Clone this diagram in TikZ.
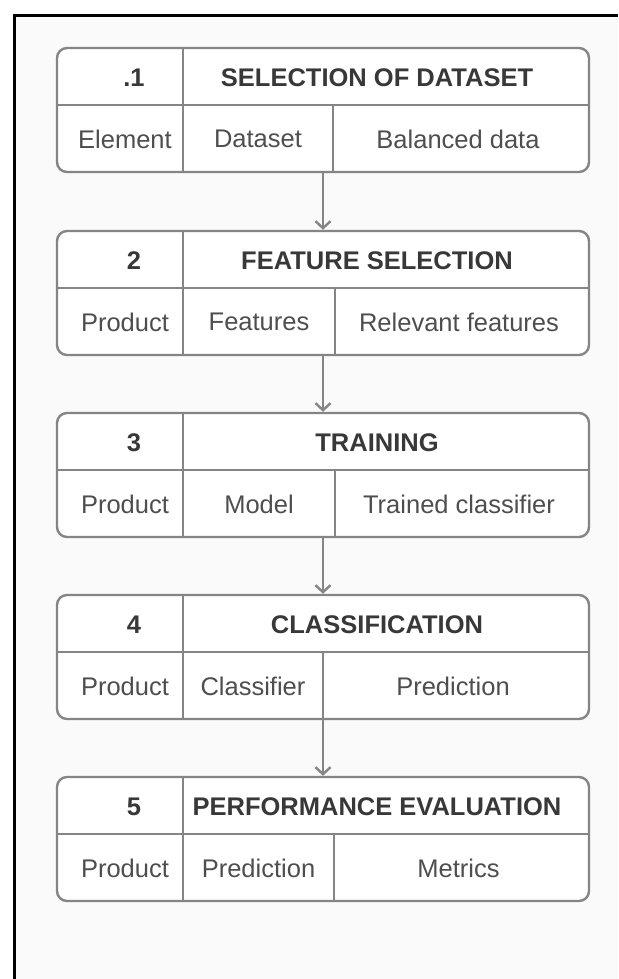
\documentclass[tikz,border=0pt]{standalone}
\usepackage{fontspec}
\setmainfont{Liberation Sans}
\usetikzlibrary{arrows.meta}
\definecolor{linegray}{HTML}{858585}
\definecolor{headtxt}{HTML}{383838}
\definecolor{bodytxt}{HTML}{4E4E4E}
\definecolor{paper}{HTML}{FAFAFA}
\tikzset{
  stage/.style={draw=linegray, line width=2.4pt, rounded corners=10pt, fill=white,
    minimum width=532pt, minimum height=124pt, inner sep=0pt},
  rule/.style={draw=linegray, line width=2.4pt},
  headtext/.style={text=headtxt, font=\fontsize{25.5}{29}\selectfont\bfseries, inner sep=0pt},
  bodytext/.style={text=bodytxt, font=\fontsize{25.5}{28}\selectfont, inner sep=0pt},
  arr/.style={draw=linegray, line width=2.2pt, -{Straight Barb[length=7pt,width=15pt,line width=2.4pt]}}
}
\newcommand{\stagebox}[8]{%
  \node[stage] (#1) at (323,#2+62) {};
  \draw[rule] (57,#2+57) -- (589,#2+57);
  \draw[rule] (183,#2) -- (183,#2+124);
  \draw[rule] (#3,#2+57) -- (#3,#2+124);
  \node[headtext] (#1num) at (134,#2+30) {#4};
  \node[headtext] (#1title) at (377,#2+30) {#5};
  \node[bodytext] (#1a) at (125,#2+91) {#6};
  \node[bodytext] (#1b) at ({(183+#3)/2},#2+91) {#7};
  \node[bodytext] (#1c) at ({(#3+589)/2-3},#2+91) {#8};
}
\begin{document}
\begin{tikzpicture}[x=1pt,y=-1pt]
\useasboundingbox (0,0) rectangle (618,979);
\fill[white] (0,0) rectangle (618,979);
\fill[paper] (15,16) rectangle (618,979);
\draw[black, line width=3pt] (14.5,979) -- (14.5,15.5) -- (618,15.5);
\stagebox{s1}{48}{333}{.1}{SELECTION OF DATASET}{Element}{Dataset}{Balanced data}
\stagebox{s2}{231}{335}{2}{FEATURE SELECTION}{Product}{Features}{Relevant features}
\stagebox{s3}{413}{335}{3}{TRAINING}{Product}{Model}{Trained classifier}
\stagebox{s4}{595}{323}{4}{CLASSIFICATION}{Product}{Classifier}{Prediction}
\stagebox{s5}{777}{334}{5}{PERFORMANCE EVALUATION}{Product}{Prediction}{Metrics}
\draw[arr] (s1.south) -- (s2.north);
\draw[arr] (s2.south) -- (s3.north);
\draw[arr] (s3.south) -- (s4.north);
\draw[arr] (s4.south) -- (s5.north);
\end{tikzpicture}
\end{document}
